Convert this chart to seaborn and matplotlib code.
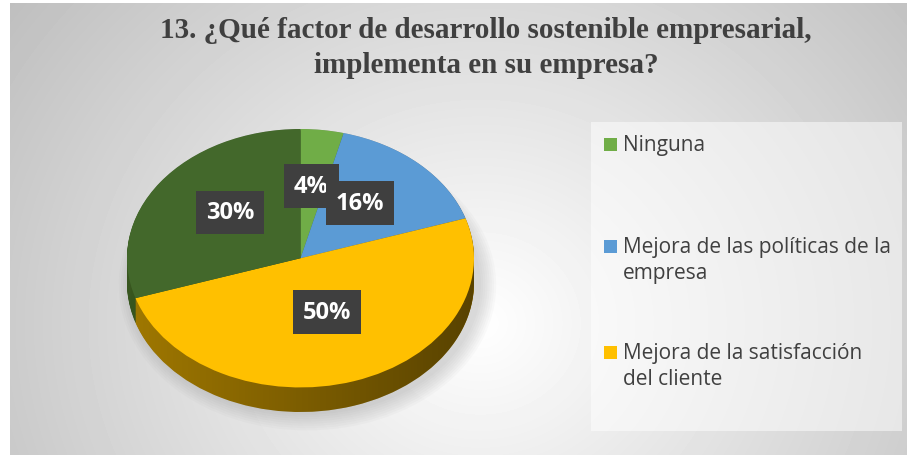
import numpy as np
import seaborn as sns
import matplotlib.pyplot as plt
from matplotlib.patches import Polygon, Ellipse
from matplotlib.colors import LinearSegmentedColormap

# data
categories = ["Ninguna", "Mejora de las políticas de la\nempresa",
              "Mejora de la satisfacción\ndel cliente", "Otro"]
values = [4, 16, 50, 30]
top_colors = ["#70ad47", "#5b9bd5", "#ffc000", "#43682b"]
side_colors = ["#5a8a39", "#4a80b0", "#a07800", "#38561f"]
title = "13. ¿Qué factor de desarrollo sostenible empresarial,\nimplementa en su empresa?"

sns.set_style("white")
plt.rcParams["font.family"] = ["Open Sans", "DejaVu Sans"]

W, H = 907, 456
fig = plt.figure(figsize=(W / 100, H / 100), dpi=100)
fig.patch.set_facecolor("white")

# radial gray background of the chart area
bg = fig.add_axes([10 / W, 0, (W - 10) / W, (H - 4) / H])
yy, xx = np.mgrid[0:452, 0:897]
r = np.hypot(xx - 470, (yy - 320) * 1.1)
shade = np.clip(1 - 0.24 * r / 560, 0.74, 1)
bg.imshow(shade, cmap="gray", vmin=0, vmax=1, aspect="auto", interpolation="bilinear")
bg.set_axis_off()

# pie axes (squashed to look like a 3D pie)
ax = fig.add_axes([127 / W, (H - 413) / H, 347 / W, 283 / H])
depth = 0.19

# soft shadow under the pie
for k in range(8):
    ax.add_patch(Ellipse((0.04, -depth - 0.02), 2.0 + 0.025 * k, 2.0 + 0.035 * k,
                         fc="#808080", ec="none", alpha=0.04, zorder=0.5, clip_on=False))

for d in np.linspace(depth, 0.005, 30):
    ax.pie(values, colors=side_colors, startangle=90, counterclock=False,
           center=(0, -d), wedgeprops=dict(linewidth=0, zorder=1))

# darken the side towards the right
t = np.linspace(0, np.pi, 100)
outline = np.vstack([np.column_stack([np.cos(t), np.sin(t)]),
                     np.column_stack([np.cos(t + np.pi), np.sin(t + np.pi) - depth])])
band = Polygon(outline, closed=True, transform=ax.transData, fc="none", ec="none")
ax.add_patch(band)
dark = LinearSegmentedColormap.from_list("dark", [(0, 0, 0, 0.0), (0, 0, 0, 0.45)])
img = ax.imshow(np.linspace(0, 1, 256)[None, :], cmap=dark, extent=(-1, 1, -1 - depth, 1),
                zorder=1.5, interpolation="bilinear")
img.set_clip_path(band)

wedges, _, autotexts = ax.pie(values, colors=top_colors, startangle=90, counterclock=False,
                              autopct="%1.0f%%", pctdistance=0.5,
                              wedgeprops=dict(linewidth=0, zorder=2))
for txt in autotexts:
    x, y = txt.get_position()
    txt.set_position((x, y + 0.06))
    txt.set_color("white")
    txt.set_fontsize(17)
    txt.set_fontweight("bold")
    txt.set_zorder(3)
    txt.set_bbox(dict(boxstyle="square,pad=0.42", fc="#3f3f3f", ec="none"))
ax.set_aspect("auto")
ax.set_xlim(-1, 1)
ax.set_ylim(-1 - depth, 1)
ax.set_axis_off()

# title
fig.text(486 / W, 1 - 48 / H, title, ha="center", va="center", fontsize=21,
         fontweight="bold", color="#404040", family="Liberation Serif", linespacing=1.4)

# legend box
fig.patches.append(plt.Rectangle((591 / W, 1 - 432 / H), 311 / W, 309 / H,
                                 transform=fig.transFigure, fc="white", ec="none", alpha=0.5))
rows = [145, 247, 353]
for label, color, y in zip(categories[:3], top_colors, rows):
    fig.patches.append(plt.Rectangle((604 / W, 1 - (y + 7) / H), 13 / W, 13 / H,
                                     transform=fig.transFigure, fc=color, ec="none"))
    fig.text(623 / W, 1 - (y - 10) / H, label, ha="left", va="top", fontsize=15,
             color="#404040", linespacing=1.3)

fig.savefig("out.png", dpi=100)
